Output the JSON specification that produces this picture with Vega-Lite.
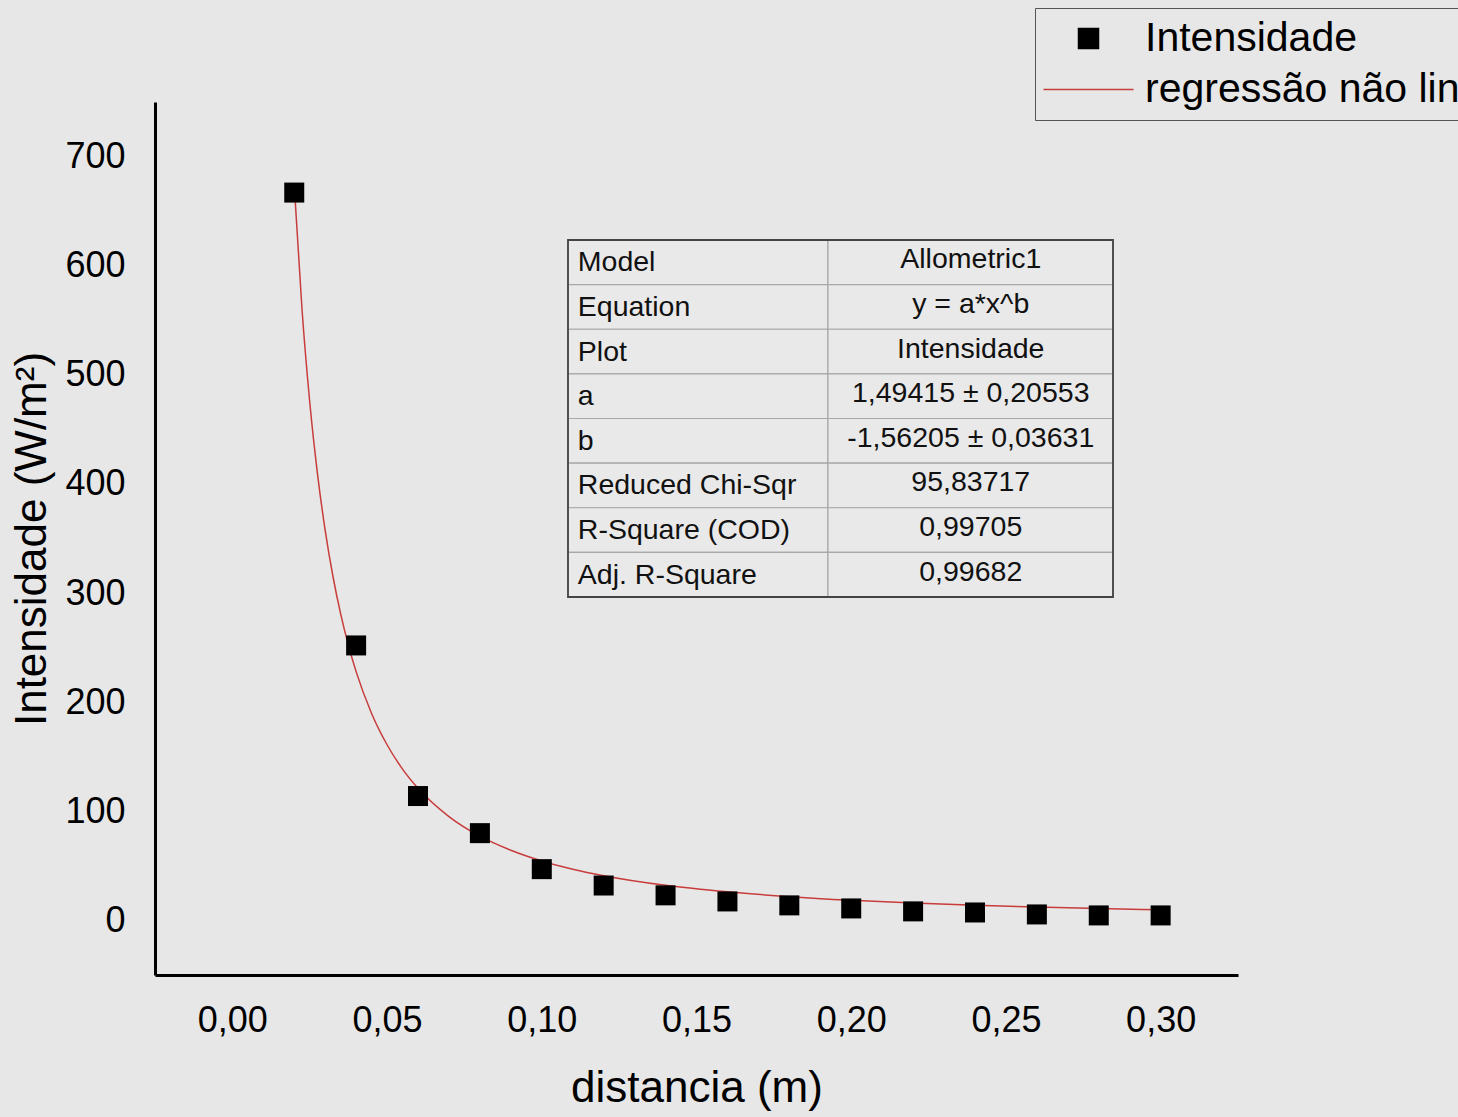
{
  "$schema": "https://vega.github.io/schema/vega-lite/v6.json",
  "width": 1083,
  "height": 873,
  "autosize": {"type": "none"},
  "padding": {"left": 155, "top": 102, "right": 220, "bottom": 142},
  "background": "#e7e7e7",
  "config": {
    "view": {"stroke": null},
    "font": "Liberation Sans",
    "axis": {
      "domainColor": "#000000",
      "domainWidth": 3,
      "ticks": false,
      "grid": false,
      "labelColor": "#000000",
      "titleColor": "#000000",
      "titleFontWeight": "normal",
      "labelFont": "Liberation Sans",
      "titleFont": "Liberation Sans"
    },
    "legend": {
      "labelFont": "Liberation Sans"
    }
  },
  "layer": [
    {
      "layer": [
        {
          "data": {
            "values": [
              {"d": 0.02, "I": 673.6},
              {"d": 0.0225, "I": 560.5},
              {"d": 0.025, "I": 475.3},
              {"d": 0.0275, "I": 409.5},
              {"d": 0.03, "I": 357.5},
              {"d": 0.0325, "I": 315.4},
              {"d": 0.035, "I": 280.9},
              {"d": 0.0375, "I": 252.2},
              {"d": 0.04, "I": 228.0},
              {"d": 0.045, "I": 189.7},
              {"d": 0.05, "I": 161.0},
              {"d": 0.055, "I": 138.7},
              {"d": 0.06, "I": 121.1},
              {"d": 0.07, "I": 95.2},
              {"d": 0.08, "I": 77.2},
              {"d": 0.09, "I": 64.3},
              {"d": 0.10, "I": 54.5},
              {"d": 0.11, "I": 47.0},
              {"d": 0.12, "I": 41.0},
              {"d": 0.14, "I": 32.2},
              {"d": 0.16, "I": 26.2},
              {"d": 0.18, "I": 21.8},
              {"d": 0.20, "I": 18.5},
              {"d": 0.22, "I": 15.9},
              {"d": 0.24, "I": 13.9},
              {"d": 0.26, "I": 12.3},
              {"d": 0.28, "I": 10.9},
              {"d": 0.30, "I": 9.8}
            ]
          },
          "mark": {"type": "line", "interpolate": "monotone", "strokeWidth": 1.5},
          "encoding": {
            "x": {
              "field": "d", "type": "quantitative",
              "scale": {"domain": [-0.025, 0.325], "nice": false, "zero": false},
              "axis": {
                "values": [0, 0.05, 0.1, 0.15, 0.2, 0.25, 0.3],
                "labelExpr": "replace(format(datum.value, '.2f'), '.', ',')",
                "labelFontSize": 36, "labelPadding": 28,
                "title": "distancia (m)", "titleFontSize": 44, "titlePadding": 28
              }
            },
            "y": {
              "field": "I", "type": "quantitative",
              "scale": {"domain": [-50, 750], "nice": false, "zero": false},
              "axis": {
                "values": [0, 100, 200, 300, 400, 500, 600, 700],
                "format": "d",
                "labelFontSize": 36, "labelPadding": 30,
                "title": "Intensidade (W/m²)", "titleFontSize": 44, "titlePadding": 10
              }
            },
            "color": {
              "datum": "regressão não linear",
              "type": "nominal",
              "scale": {"domain": ["Intensidade", "regressão não linear"], "range": ["#000000", "#c83c3c"]},
              "legend": {
                "title": null,
                "orient": "none",
                "legendX": 880,
                "legendY": -94,
                "strokeColor": "#555555",
                "fillColor": "#e7e7e7",
                "padding": 10,
                "labelFontSize": 41,
                "labelColor": "#000000",
                "labelLimit": 0,
                "symbolSize": 400,
                "symbolType": "square",
                "symbolStrokeWidth": 1.5,
                "symbolOffset": 23,
                "labelOffset": 36,
                "rowPadding": 9,
                "encode": {
                  "symbols": {
                    "update": {
                      "shape": {"signal": "datum.value === 'Intensidade' ? 'square' : 'M-4.5,0H4.5'"},
                      "size": {"value": 400},
                      "fill": {"signal": "datum.value === 'Intensidade' ? '#000000' : 'transparent'"},
                      "stroke": {"signal": "datum.value === 'Intensidade' ? 'transparent' : '#c83c3c'"},
                      "strokeWidth": {"value": 1.5},
                      "opacity": {"value": 1}
                    }
                  }
                }
              }
            }
          }
        },
        {
          "data": {
            "values": [
              {"d": 0.02, "I": 667},
              {"d": 0.04, "I": 252},
              {"d": 0.06, "I": 114},
              {"d": 0.08, "I": 80},
              {"d": 0.10, "I": 47},
              {"d": 0.12, "I": 32},
              {"d": 0.14, "I": 23},
              {"d": 0.16, "I": 17.4},
              {"d": 0.18, "I": 13.8},
              {"d": 0.20, "I": 11},
              {"d": 0.22, "I": 8.3},
              {"d": 0.24, "I": 7.3},
              {"d": 0.26, "I": 5.5},
              {"d": 0.28, "I": 4.6},
              {"d": 0.30, "I": 4.6}
            ]
          },
          "mark": {"type": "point", "shape": "square", "filled": true, "size": 400, "opacity": 1},
          "encoding": {
            "x": {"field": "d", "type": "quantitative"},
            "y": {"field": "I", "type": "quantitative"},
            "color": {"datum": "Intensidade", "type": "nominal"}
          }
        }
      ]
    },
    {
      "data": {
        "values": [
          {"param": "Model", "value": "Allometric1"},
          {"param": "Equation", "value": "y = a*x^b"},
          {"param": "Plot", "value": "Intensidade"},
          {"param": "a", "value": "1,49415 ± 0,20553"},
          {"param": "b", "value": "-1,56205 ± 0,03631"},
          {"param": "Reduced Chi-Sqr", "value": "95,83717"},
          {"param": "R-Square (COD)", "value": "0,99705"},
          {"param": "Adj. R-Square", "value": "0,99682"}
        ]
      },
      "encoding": {
        "y": {
          "field": "param", "type": "nominal", "sort": null,
          "scale": {
            "type": "band",
            "domain": ["Model", "Equation", "Plot", "a", "b", "Reduced Chi-Sqr", "R-Square (COD)", "Adj. R-Square"],
            "range": [138, 495],
            "paddingInner": 0, "paddingOuter": 0
          },
          "axis": null
        }
      },
      "layer": [
        {
          "mark": {"type": "rect", "fill": "#e9e9e9", "stroke": "#a8a8a8", "strokeWidth": 1.2},
          "encoding": {
            "x": {"datum": 0, "type": "quantitative", "scale": {"domain": [0, 1], "range": [413, 958]}, "axis": null},
            "x2": {"datum": 0.477}
          }
        },
        {
          "mark": {"type": "rect", "fill": "#e9e9e9", "stroke": "#a8a8a8", "strokeWidth": 1.2},
          "encoding": {
            "x": {"datum": 0.477, "type": "quantitative"},
            "x2": {"datum": 1}
          }
        },
        {
          "mark": {"type": "text", "align": "left", "baseline": "middle", "fontSize": 28.5, "color": "#111111", "font": "Liberation Sans"},
          "encoding": {
            "x": {"datum": 0.018, "type": "quantitative"},
            "text": {"field": "param"}
          }
        },
        {
          "mark": {"type": "text", "align": "center", "baseline": "middle", "fontSize": 28.5, "dy": -3, "color": "#111111", "font": "Liberation Sans"},
          "encoding": {
            "x": {"datum": 0.739, "type": "quantitative"},
            "text": {"field": "value"}
          }
        }
      ]
    },
    {
      "data": {"values": [{"box": "table"}]},
      "mark": {"type": "rect", "fill": null, "fillOpacity": 0, "stroke": "#444444", "strokeWidth": 1.8},
      "encoding": {
        "x": {"datum": 0, "type": "quantitative", "scale": {"domain": [0, 1], "range": [413, 958]}, "axis": null},
        "x2": {"datum": 1},
        "y": {"datum": 0, "type": "quantitative", "scale": {"domain": [0, 1], "range": [138, 495]}, "axis": null},
        "y2": {"datum": 1}
      }
    }
  ],
  "resolve": {"scale": {"x": "independent", "y": "independent"}}
}
